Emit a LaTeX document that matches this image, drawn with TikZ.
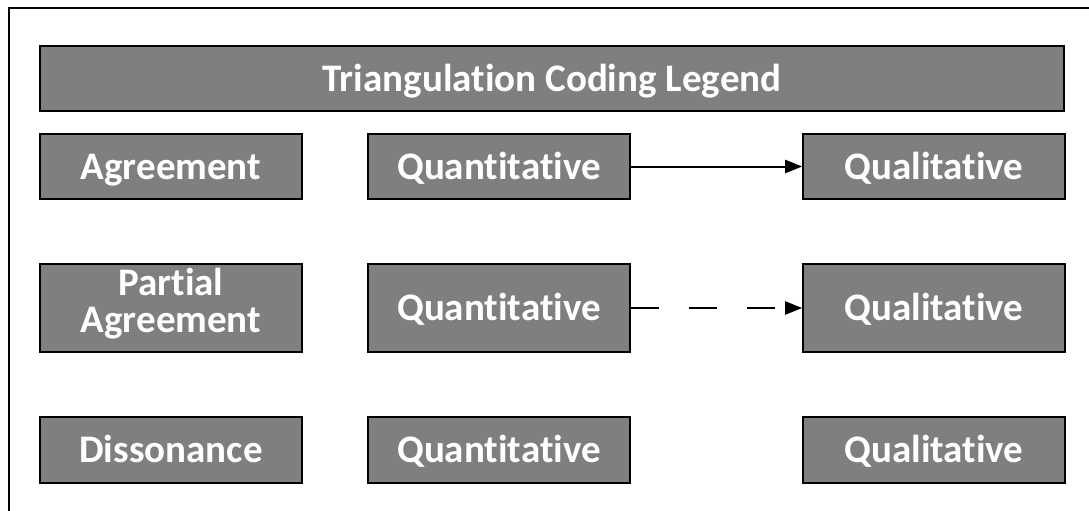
\documentclass[tikz,border=0pt]{standalone}
\usepackage{fontspec}
\setmainfont{Carlito}[Ligatures=CommonOff]
\usetikzlibrary{arrows.meta}
\begin{document}
\begin{tikzpicture}[x=1pt,y=-1pt,
  legbox/.style={draw=black,line width=1.6pt,fill={rgb,255:red,127;green,127;blue,127},
    text=white,font=\bfseries\fontsize{39}{35}\selectfont,inner sep=0pt,
    text height=25pt,text depth=0pt,
    minimum width=262pt,align=center},
  link/.style={line width=2pt,-{Triangle[length=17pt,width=13pt]}}]
\useasboundingbox (0,0) rectangle (1089,511);
% frame around the legend (open to the right and bottom)
\draw[line width=1.6pt] (9,511) -- (9,8) -- (1089,8);
% title bar
\node[legbox,minimum width=1024pt,minimum height=65pt] (title) at (552,78.5) {Triangulation Coding Legend};
% row labels
\node[legbox,minimum height=65pt] (agr) at (171,166.5) {Agreement};
\node[legbox,minimum height=88pt,text height=60pt,text depth=12pt] (pagr) at (171,308) {Partial\\[2pt]Agreement};
\node[legbox,minimum height=66pt] (dis) at (171,450) {Dissonance};
% quantitative column
\node[legbox,minimum height=65pt] (qn1) at (499,166.5) {Quantitative};
\node[legbox,minimum height=88pt] (qn2) at (499,308) {Quantitative};
\node[legbox,minimum height=66pt] (qn3) at (499,450) {Quantitative};
% qualitative column
\node[legbox,minimum height=65pt] (ql1) at (934,166.5) {Qualitative};
\node[legbox,minimum height=88pt] (ql2) at (934,308) {Qualitative};
\node[legbox,minimum height=66pt] (ql3) at (934,450) {Qualitative};
% connectors
\draw[link] (qn1) -- (ql1);
\draw[link,dash pattern=on 28pt off 30pt] (qn2) -- (ql2);
\end{tikzpicture}
\end{document}
